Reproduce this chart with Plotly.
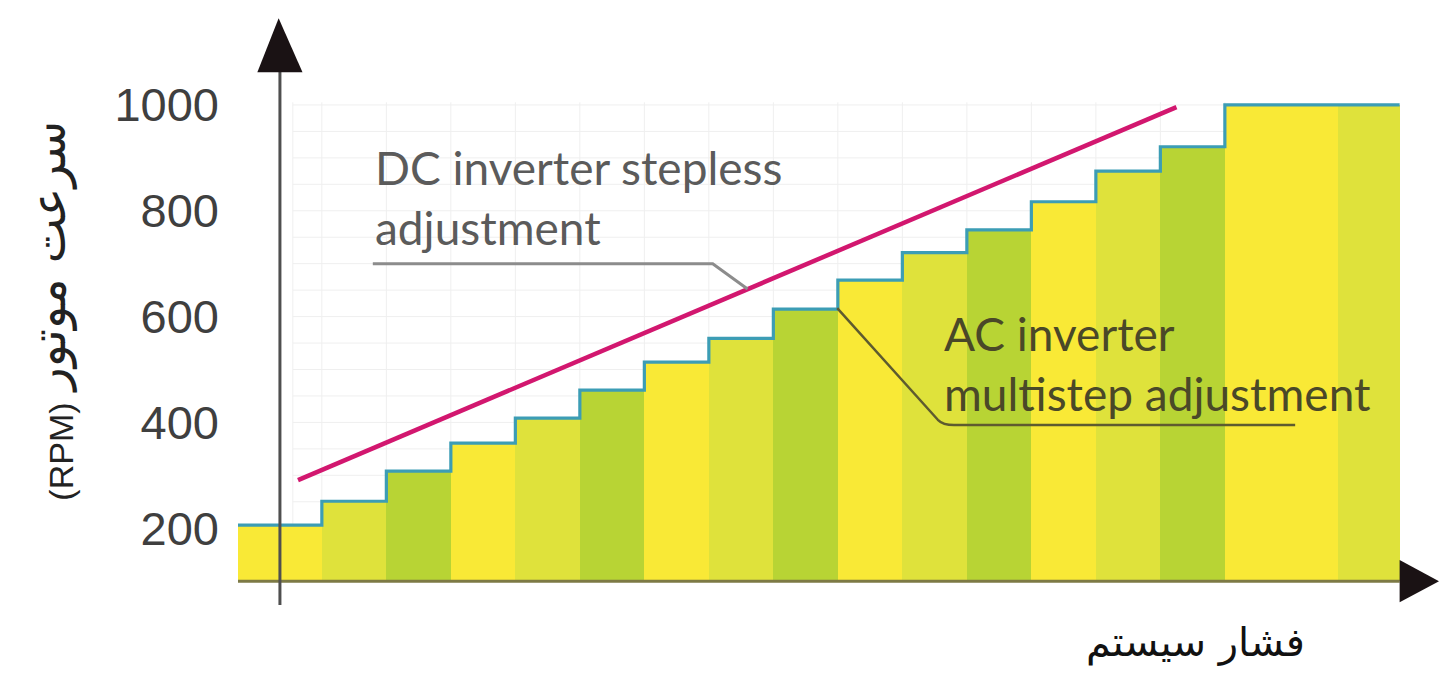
import plotly.graph_objects as go

# ---- data ----
# step boundaries along the pressure axis (arbitrary units, y-axis at 0)
step_edges = [-0.65, 0.65, 1.65, 2.65, 3.65, 4.65, 5.65, 6.65, 7.65, 8.65,
              9.65, 10.65, 11.65, 12.65, 13.65, 14.65, 16.4, 17.36]
# motor speed of each step (RPM) - AC inverter multistep
ac_rpm = [206, 251, 308, 361, 408, 461, 514, 559, 614, 669,
          721, 764, 817, 875, 921, 1000, 1000]
# DC inverter stepless line
dc_x = [0.28, 13.9]
dc_rpm = [291, 996]
base_rpm = 100
y_ticks = [200, 400, 600, 800, 1000]

YELLOW = "#f9e936"
LIME = "#dfe23b"
GREEN = "#b8d434"
bar_colors = [YELLOW, LIME, GREEN] * 5 + [YELLOW, LIME]

centers = [(a + b) / 2 for a, b in zip(step_edges[:-1], step_edges[1:])]
widths = [b - a for a, b in zip(step_edges[:-1], step_edges[1:])]

fig = go.Figure()

fig.add_trace(go.Bar(
    x=centers, y=[v - base_rpm for v in ac_rpm], base=base_rpm, width=widths,
    marker=dict(color=bar_colors, line=dict(width=0)),
    hoverinfo="skip", showlegend=False,
))

# step outline
fig.add_trace(go.Scatter(
    x=step_edges, y=ac_rpm + [ac_rpm[-1]], mode="lines",
    line=dict(color="#3c9db5", width=3.2, shape="hv"),
    hoverinfo="skip", showlegend=False,
))

# stepless line
fig.add_trace(go.Scatter(
    x=dc_x, y=dc_rpm, mode="lines",
    line=dict(color="#d2176f", width=4.5),
    hoverinfo="skip", showlegend=False,
))

shapes = []
# faint background grid
for xv in [0.2] + step_edges[1:16]:
    shapes.append(dict(type="line", xref="x", yref="y", x0=xv, x1=xv, y0=base_rpm, y1=1005,
                       line=dict(color="#efefef", width=1), layer="below"))
for yv in range(150, 1001, 50):
    shapes.append(dict(type="line", xref="x", yref="y", x0=0.2, x1=14.65, y0=yv, y1=yv,
                       line=dict(color="#efefef", width=1), layer="below"))

# axes with arrows
shapes.append(dict(type="line", xref="x", yref="y", x0=step_edges[0], x1=17.36, y0=base_rpm, y1=base_rpm,
                   line=dict(color="#7d7a45", width=3), layer="above"))
shapes.append(dict(type="line", xref="x", yref="y", x0=0, x1=0, y0=55, y1=1065,
                   line=dict(color="#4f4f4f", width=3), layer="above"))
shapes.append(dict(type="path", xref="x", yref="y",
                   path="M -0.35 1062 L 0.35 1062 L -0.02 1164 Z",
                   fillcolor="#1a1214", line=dict(width=0), layer="above"))
shapes.append(dict(type="path", xref="x", yref="y",
                   path="M 17.36 60 L 17.36 140 L 17.97 100 Z",
                   fillcolor="#1a1214", line=dict(width=0), layer="above"))

# leader lines
shapes.append(dict(type="path", xref="x", yref="y",
                   path="M 1.44 700 L 6.71 700 L 7.25 652",
                   line=dict(color="#8c8c8c", width=3), layer="above"))
shapes.append(dict(type="path", xref="x", yref="y",
                   path="M 8.64 616 L 10.2 405 Q 10.28 395 10.45 395 L 15.74 395",
                   line=dict(color="#5e5b2f", width=2.5), layer="above"))

TXT_FONT = "Lato, Open Sans, sans-serif"
annotations = [
    dict(x=1.44, y=825, xref="x", yref="y", text="DC inverter stepless<br>adjustment", showarrow=False,
         xanchor="left", yanchor="middle", align="left",
         font=dict(family=TXT_FONT, size=46, color="#5b5b5b")),
    dict(x=10.26, y=511, xref="x", yref="y", text="AC inverter<br>multistep adjustment", showarrow=False,
         xanchor="left", yanchor="middle", align="left",
         font=dict(family=TXT_FONT, size=46, color="#4a4828")),
    dict(x=0.797, y=-0.045, xref="paper", yref="paper", text="فشار سیستم", showarrow=False,
         xanchor="center", yanchor="middle", font=dict(family="DejaVu Sans", size=40, color="#111111")),
    dict(x=-0.158, y=0.598, xref="paper", yref="paper", text="سرعت موتور", showarrow=False,
         textangle=-90, xanchor="center", yanchor="middle",
         font=dict(family="DejaVu Sans", size=48, color="#222222")),
    dict(x=-0.1475, y=0.272, xref="paper", yref="paper", text="(RPM)", showarrow=False,
         textangle=-90, xanchor="center", yanchor="middle",
         font=dict(family="Liberation Sans, Arial, sans-serif", size=34, color="#222222")),
]

fig.update_layout(
    width=1439, height=677,
    margin=dict(l=238, r=0, t=15, b=62),
    paper_bgcolor="white", plot_bgcolor="white",
    shapes=shapes, annotations=annotations,
    bargap=0, showlegend=False,
    xaxis=dict(range=[-0.65, 17.97], showgrid=False, zeroline=False, showline=False,
               showticklabels=False, ticks=""),
    yaxis=dict(range=[36, 1170], showgrid=False, zeroline=False, showline=False,
               tickvals=y_ticks, ticktext=[str(v) for v in y_ticks], ticks="",
               ticklabelstandoff=18,
               tickfont=dict(family="Liberation Sans, Arial, sans-serif", size=47, color="#3f3f3f")),
)

fig.write_html("out.html", config={"displayModeBar": False},
               post_script="document.body.style.margin='0';")
